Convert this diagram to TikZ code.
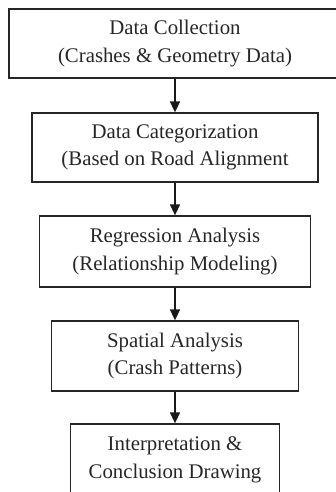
\documentclass[tikz,border=0pt]{standalone}
\usepackage{fontspec}
\setmainfont{Liberation Serif}
\usetikzlibrary{arrows.meta}
\begin{document}
\begin{tikzpicture}[x=1pt,y=-1pt,
  stepbox/.style={draw=black!85, line width=1.3pt, rectangle, inner sep=0pt,
    align=center, text=black!85, font=\fontsize{20.8}{27.5}\selectfont},
  arr/.style={draw=black!90, line width=1.5pt, -{Triangle[length=11pt,width=10pt]}}]
\useasboundingbox (0,0) rectangle (336,492);
\clip (0,0) rectangle (336,492);
\node[stepbox, minimum width=332pt, minimum height=69pt] (b1) at (175,43.5)
  {Data Collection\\(Crashes \& Geometry Data)};
\node[stepbox, minimum width=286pt, minimum height=69pt] (b2) at (175,147.5)
  {Data Categorization\\(Based on Road Alignment};
\node[stepbox, minimum width=271pt, minimum height=71pt] (b3) at (175,251.5)
  {Regression Analysis\\(Relationship Modeling)};
\node[stepbox, minimum width=247pt, minimum height=70pt] (b4) at (175,356)
  {Spatial Analysis\\(Crash Patterns)};
\node[stepbox, minimum width=209pt, minimum height=72pt] (b5) at (175,460)
  {Interpretation \&\\Conclusion Drawing};
\draw[arr] (b1.south) -- (b2.north);
\draw[arr] (b2.south) -- (b3.north);
\draw[arr] (b3.south) -- (b4.north);
\draw[arr] (b4.south) -- (b5.north);
\end{tikzpicture}
\end{document}
